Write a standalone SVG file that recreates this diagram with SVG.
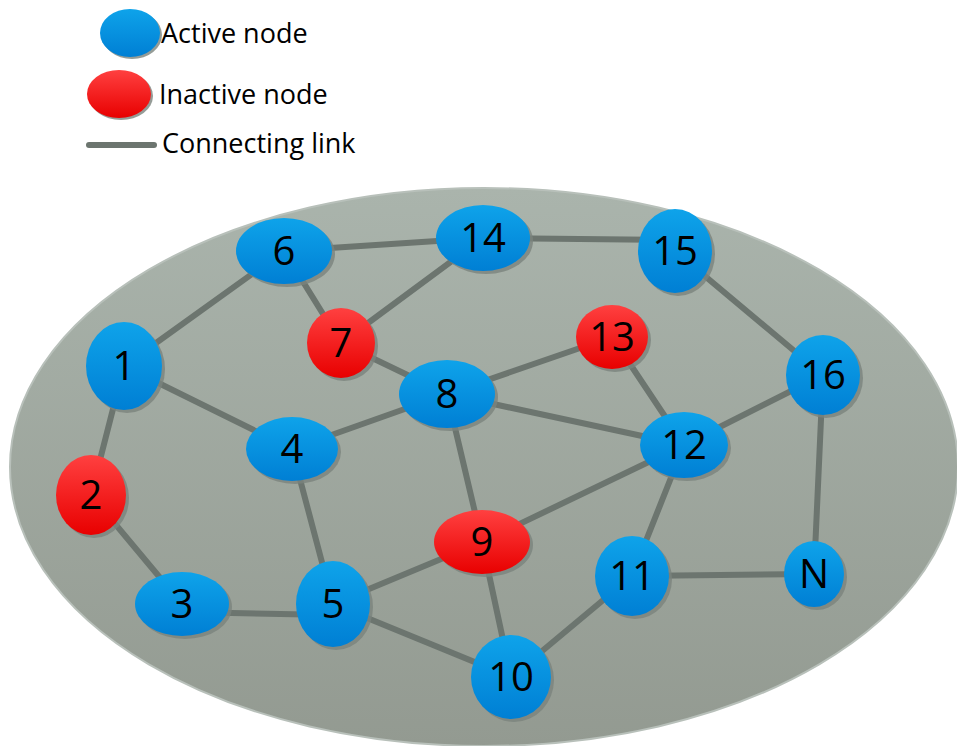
<svg xmlns="http://www.w3.org/2000/svg" width="957" height="746" viewBox="0 0 957 746">
<defs>
<linearGradient id="bg" x1="0" y1="0" x2="0" y2="1">
<stop offset="0" stop-color="#aab4ac"/>
<stop offset="1" stop-color="#939a91"/>
</linearGradient>
<linearGradient id="blue" x1="0" y1="0" x2="0" y2="1">
<stop offset="0" stop-color="#0ea3ea"/>
<stop offset="1" stop-color="#007fd4"/>
</linearGradient>
<linearGradient id="red" x1="0" y1="0" x2="0" y2="1">
<stop offset="0" stop-color="#ff4040"/>
<stop offset="1" stop-color="#e80000"/>
</linearGradient>
</defs>
<style>
.lnk{stroke:#6c756f;stroke-width:6;stroke-linecap:round}
.sh{fill:#7b837d;opacity:0.8}
.a{fill:url(#blue)}
.r{fill:url(#red)}
.lbl{font-family:"Open Sans","Liberation Sans",sans-serif;font-size:40px;fill:#000;text-anchor:middle}
.leg{font-family:"Open Sans","Liberation Sans",sans-serif;font-size:27px;fill:#000}
</style>
<rect width="957" height="746" fill="#fff"/>
<g id="legend">
<ellipse cx="132" cy="35" rx="30" ry="24" class="sh"/>
<ellipse cx="130" cy="33" rx="30" ry="24" class="a"/>
<text x="161" y="43" class="leg">Active node</text>
<ellipse cx="121" cy="96" rx="32" ry="24" class="sh"/>
<ellipse cx="119" cy="94" rx="32" ry="24" class="r"/>
<text x="159" y="104" class="leg">Inactive node</text>
<line x1="89" y1="145" x2="154" y2="145" class="lnk" stroke-width="7"/>
<text x="162" y="153" class="leg">Connecting link</text>
</g>
<g id="region">
<ellipse cx="484" cy="467" rx="474" ry="279" fill="url(#bg)" stroke="#b8c0ba" stroke-width="2"/>
</g>
<g id="links">
<line x1="284" y1="251" x2="483" y2="238" class="lnk"/>
<line x1="483" y1="238" x2="675" y2="240" class="lnk"/>
<line x1="284" y1="251" x2="124" y2="366" class="lnk"/>
<line x1="284" y1="251" x2="341" y2="343" class="lnk"/>
<line x1="483" y1="238" x2="341" y2="343" class="lnk"/>
<line x1="341" y1="343" x2="447" y2="394" class="lnk"/>
<line x1="124" y1="366" x2="292" y2="449" class="lnk"/>
<line x1="124" y1="366" x2="91" y2="495" class="lnk"/>
<line x1="91" y1="495" x2="182" y2="604" class="lnk"/>
<line x1="447" y1="394" x2="292" y2="449" class="lnk"/>
<line x1="447" y1="394" x2="612" y2="337" class="lnk"/>
<line x1="447" y1="394" x2="684" y2="445" class="lnk"/>
<line x1="447" y1="394" x2="482" y2="542" class="lnk"/>
<line x1="612" y1="337" x2="684" y2="445" class="lnk"/>
<line x1="675" y1="251" x2="823" y2="375" class="lnk"/>
<line x1="823" y1="375" x2="684" y2="445" class="lnk"/>
<line x1="823" y1="375" x2="814" y2="574" class="lnk"/>
<line x1="684" y1="445" x2="482" y2="542" class="lnk"/>
<line x1="684" y1="445" x2="632" y2="576" class="lnk"/>
<line x1="632" y1="576" x2="814" y2="574" class="lnk"/>
<line x1="632" y1="576" x2="511" y2="677" class="lnk"/>
<line x1="292" y1="449" x2="333" y2="604" class="lnk"/>
<line x1="182" y1="612" x2="333" y2="615" class="lnk"/>
<line x1="333" y1="604" x2="482" y2="542" class="lnk"/>
<line x1="333" y1="604" x2="511" y2="677" class="lnk"/>
<line x1="482" y1="542" x2="511" y2="677" class="lnk"/>
</g>
<g id="n6"><ellipse cx="287" cy="254" rx="48" ry="33" class="sh"/><ellipse cx="284" cy="251" rx="48" ry="33" class="a"/><text x="284" y="265" class="lbl">6</text></g>
<g id="n14"><ellipse cx="486" cy="241" rx="47" ry="33" class="sh"/><ellipse cx="483" cy="238" rx="47" ry="33" class="a"/><text x="483" y="252" class="lbl">14</text></g>
<g id="n15"><ellipse cx="678" cy="254" rx="37" ry="42" class="sh"/><ellipse cx="675" cy="251" rx="37" ry="42" class="a"/><text x="675" y="265" class="lbl">15</text></g>
<g id="n1"><ellipse cx="127" cy="369" rx="38" ry="44" class="sh"/><ellipse cx="124" cy="366" rx="38" ry="44" class="a"/><text x="124" y="380" class="lbl">1</text></g>
<g id="n7"><ellipse cx="344" cy="346" rx="34" ry="35" class="sh"/><ellipse cx="341" cy="343" rx="34" ry="35" class="r"/><text x="341" y="357" class="lbl">7</text></g>
<g id="n13"><ellipse cx="615" cy="340" rx="36" ry="32" class="sh"/><ellipse cx="612" cy="337" rx="36" ry="32" class="r"/><text x="612" y="351" class="lbl">13</text></g>
<g id="n16"><ellipse cx="826" cy="378" rx="37" ry="40" class="sh"/><ellipse cx="823" cy="375" rx="37" ry="40" class="a"/><text x="823" y="389" class="lbl">16</text></g>
<g id="n8"><ellipse cx="450" cy="397" rx="48" ry="34" class="sh"/><ellipse cx="447" cy="394" rx="48" ry="34" class="a"/><text x="447" y="408" class="lbl">8</text></g>
<g id="n4"><ellipse cx="295" cy="452" rx="46" ry="32" class="sh"/><ellipse cx="292" cy="449" rx="46" ry="32" class="a"/><text x="292" y="463" class="lbl">4</text></g>
<g id="n12"><ellipse cx="687" cy="448" rx="44" ry="33" class="sh"/><ellipse cx="684" cy="445" rx="44" ry="33" class="a"/><text x="684" y="459" class="lbl">12</text></g>
<g id="n2"><ellipse cx="94" cy="498" rx="35" ry="40" class="sh"/><ellipse cx="91" cy="495" rx="35" ry="40" class="r"/><text x="91" y="509" class="lbl">2</text></g>
<g id="n9"><ellipse cx="485" cy="545" rx="48" ry="32" class="sh"/><ellipse cx="482" cy="542" rx="48" ry="32" class="r"/><text x="482" y="556" class="lbl">9</text></g>
<g id="n3"><ellipse cx="185" cy="607" rx="47" ry="32" class="sh"/><ellipse cx="182" cy="604" rx="47" ry="32" class="a"/><text x="182" y="618" class="lbl">3</text></g>
<g id="n5"><ellipse cx="336" cy="607" rx="37" ry="43" class="sh"/><ellipse cx="333" cy="604" rx="37" ry="43" class="a"/><text x="333" y="618" class="lbl">5</text></g>
<g id="n11"><ellipse cx="635" cy="579" rx="37" ry="40" class="sh"/><ellipse cx="632" cy="576" rx="37" ry="40" class="a"/><text x="632" y="590" class="lbl">11</text></g>
<g id="nN"><ellipse cx="817" cy="577" rx="30" ry="33" class="sh"/><ellipse cx="814" cy="574" rx="30" ry="33" class="a"/><text x="814" y="588" class="lbl">N</text></g>
<g id="n10"><ellipse cx="514" cy="680" rx="40" ry="42" class="sh"/><ellipse cx="511" cy="677" rx="40" ry="42" class="a"/><text x="511" y="691" class="lbl">10</text></g>
</svg>
